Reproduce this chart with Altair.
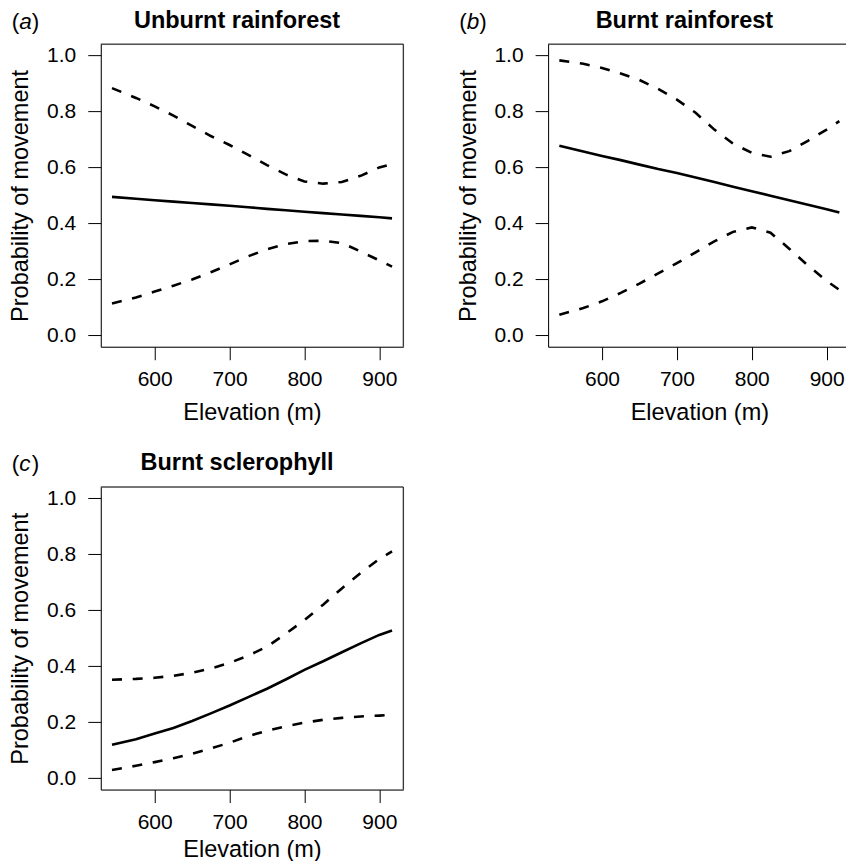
import altair as alt
import pandas as pd

# ---------------- data ----------------
elev = [543, 575, 600, 625, 650, 675, 700, 725, 750, 775, 800, 825, 850, 875, 900, 917]

a_mean  = [0.495, 0.488, 0.483, 0.478, 0.473, 0.468, 0.463, 0.458, 0.452, 0.447, 0.442, 0.437, 0.432, 0.427, 0.422, 0.418]
a_lower = [0.114, 0.136, 0.157, 0.178, 0.200, 0.226, 0.254, 0.283, 0.308, 0.326, 0.337, 0.338, 0.330, 0.300, 0.268, 0.246]
a_upper = [0.883, 0.848, 0.818, 0.785, 0.748, 0.712, 0.680, 0.645, 0.608, 0.575, 0.550, 0.542, 0.548, 0.570, 0.600, 0.612]

b_mean  = [0.677, 0.657, 0.641, 0.626, 0.610, 0.594, 0.580, 0.564, 0.548, 0.531, 0.515, 0.499, 0.483, 0.467, 0.451, 0.439]
b_lower = [0.074, 0.098, 0.122, 0.152, 0.185, 0.222, 0.258, 0.297, 0.336, 0.370, 0.386, 0.367, 0.310, 0.250, 0.195, 0.163]
b_upper = [0.982, 0.970, 0.955, 0.935, 0.912, 0.880, 0.842, 0.795, 0.735, 0.685, 0.652, 0.638, 0.658, 0.695, 0.735, 0.765]

c_mean  = [0.120, 0.140, 0.160, 0.180, 0.205, 0.232, 0.260, 0.290, 0.320, 0.353, 0.387, 0.418, 0.450, 0.482, 0.512, 0.528]
c_lower = [0.030, 0.045, 0.058, 0.072, 0.088, 0.107, 0.127, 0.151, 0.170, 0.186, 0.199, 0.209, 0.216, 0.221, 0.224, 0.227]
c_upper = [0.352, 0.355, 0.359, 0.366, 0.377, 0.392, 0.412, 0.438, 0.470, 0.516, 0.565, 0.620, 0.678, 0.733, 0.783, 0.810]

panel_titles = ["Unburnt rainforest", "Burnt rainforest", "Burnt sclerophyll"]
panel_letters = ["a", "b", "c"]
x_ticks = [600, 700, 800, 900]
y_ticks = [0.0, 0.2, 0.4, 0.6, 0.8, 1.0]
x_title = "Elevation (m)"
y_title = "Probability of movement"

# ---------------- styling ----------------
FONT = "Liberation Sans"
W = 302.6
H = 302.7
X_DOM = [528.0, 932.0]
Y_DOM = [-0.04, 1.04]
LW = 2.6
DASH = [10, 10.7]


def panel(idx, mean, lower, upper, draw_right, xtitle_y):
    df = pd.DataFrame({"elev": elev, "mean": mean, "lower": lower, "upper": upper})
    long = df.melt("elev", var_name="series", value_name="prob")

    x = alt.X("elev:Q",
              scale=alt.Scale(domain=X_DOM, nice=False, zero=False),
              axis=alt.Axis(values=x_ticks, format="d", title=x_title, grid=False,
                            domain=True, domainColor="black", domainWidth=1,
                            ticks=True, tickSize=13, tickColor="black", tickWidth=1,
                            labelFont=FONT, labelFontSize=21, labelColor="black",
                            labelPadding=9, labelFlush=False, labelOverlap=False,
                            titleFont=FONT, titleFontSize=23.5, titleFontWeight="normal",
                            titleColor="black", titleBaseline="alphabetic", titleY=xtitle_y))
    y = alt.Y("prob:Q",
              scale=alt.Scale(domain=Y_DOM, nice=False, zero=False),
              axis=alt.Axis(values=y_ticks, format=".1f", title=y_title, grid=False,
                            domain=True, domainColor="black", domainWidth=1,
                            ticks=True, tickSize=13, tickColor="black", tickWidth=1,
                            labelFont=FONT, labelFontSize=21, labelColor="black",
                            labelPadding=12, labelFlush=False, labelOverlap=False,
                            titleFont=FONT, titleFontSize=23.5, titleFontWeight="normal",
                            titleColor="black", titleBaseline="alphabetic", titleX=-73))

    base = alt.Chart(long).encode(x=x, y=y)
    solid = base.mark_line(color="black", strokeWidth=LW).transform_filter(
        alt.datum.series == "mean")
    dashed = base.mark_line(color="black", strokeWidth=LW, strokeDash=DASH,
                            strokeCap="butt").encode(detail="series:N").transform_filter(
        alt.datum.series != "mean")

    one = pd.DataFrame({"k": [0]})
    top_rule = alt.Chart(one).mark_rule(color="black", strokeWidth=1).encode(
        x=alt.value(0), x2=alt.value(W), y=alt.value(0))
    layers = [solid, dashed, top_rule]
    if draw_right:
        right_rule = alt.Chart(one).mark_rule(color="black", strokeWidth=1).encode(
            x=alt.value(W), y=alt.value(0), y2=alt.value(H))
        layers.append(right_rule)

    title = alt.Chart(one).mark_text(font=FONT, fontSize=23.5, fontWeight="bold",
                                     align="center", baseline="alphabetic",
                                     color="black").encode(
        x=alt.value(W / 2 - 15), y=alt.value(-16.5), text=alt.value(panel_titles[idx]))
    lp = alt.Chart(one).mark_text(font=FONT, fontSize=22.5, align="left",
                                  baseline="alphabetic", color="black").encode(
        x=alt.value(-89), y=alt.value(-15.5), text=alt.value("("))
    letter = alt.Chart(one).mark_text(font=FONT, fontSize=22.5, fontStyle="italic",
                                      align="left", baseline="alphabetic",
                                      color="black").encode(
        x=alt.value(-81.5), y=alt.value(-15.5), text=alt.value(panel_letters[idx]))
    rp = alt.Chart(one).mark_text(font=FONT, fontSize=22.5, align="left",
                                  baseline="alphabetic", color="black").encode(
        x=alt.value(-69), y=alt.value(-15.5), text=alt.value(")"))
    layers += [title, lp, letter, rp]

    return alt.layer(*layers).properties(width=W, height=H)


pa = panel(0, a_mean, a_lower, a_upper, True, 73)
pb = panel(1, b_mean, b_lower, b_upper, False, 73)   # right side is cut off, as in the source
pc = panel(2, c_mean, c_lower, c_upper, True, 67)

chart = alt.concat(pa, pb, pc, columns=2,
                   spacing={"row": 140, "column": 144.5},
                   bounds="flush").properties(
    padding={"left": -0.2, "top": 0, "right": -6.5, "bottom": -1}
).configure_view(stroke=None).configure(background="white")

chart.save("out.html", embed_options={"renderer": "svg", "actions": False})
